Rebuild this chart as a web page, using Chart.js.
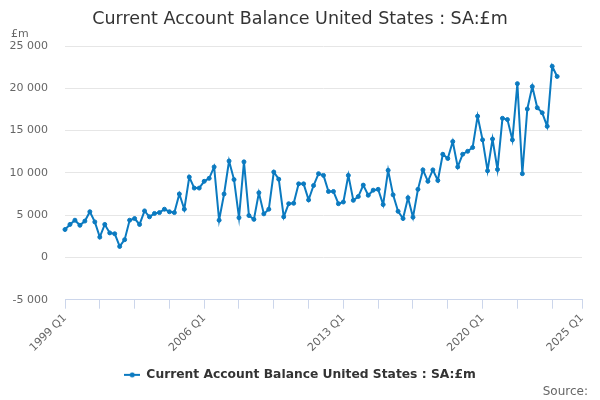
<!DOCTYPE html>
<html lang="en">
<head>
<meta charset="utf-8">
<title>Current Account Balance United States : SA:£m</title>
<script src="https://cdn.jsdelivr.net/npm/chart.js@4.4.1/dist/chart.umd.min.js"></script>
<style>
  body { margin: 0; background: #fff; }
  #box { width: 600px; height: 400px; }
</style>
</head>
<body>
<div id="box"><canvas id="chart"></canvas></div>
<script>
const chartTitle = "Current Account Balance United States : SA:£m";
const seriesName = "Current Account Balance United States : SA:£m";
const unitLabel = "£m";
const sourceLabel = "Source:";

// quarters on the axis: 1999 Q1 .. 2025 Q1
const firstYear = 1999;
const lastYear = 2025;
const quarters = [];
for (let year = firstYear; year <= lastYear; year++) {
  for (let q = 1; q <= 4; q++) {
    if (year === lastYear && q > 1) break;
    quarters.push(year + " Q" + q);
  }
}

// £m, 1999 Q1 .. 2023 Q4
const balance = [
  3300, 3900, 4400, 3800, 4300, 5400, 4200, 2400, 3900, 2900,
  2800, 1300, 2100, 4400, 4600, 3900, 5500, 4800, 5200, 5300,
  5700, 5400, 5300, 7500, 5700, 9500, 8200, 8200, 9000, 9350,
  10700, 4400, 7500, 11400, 9200, 4700, 11300, 4950, 4500, 7650,
  5150, 5700, 10100, 9250, 4800, 6350, 6400, 8700, 8700, 6800,
  8500, 9900, 9700, 7800, 7800, 6350, 6550, 9700, 6750, 7200,
  8550, 7350, 7950, 8050, 6250, 10300, 7400, 5450, 4600, 7050,
  4750, 8050, 10350, 9000, 10350, 9100, 12200, 11700, 13700, 10700,
  12200, 12550, 13000, 16700, 13900, 10250, 14000, 10400, 16450, 16300,
  13900, 20550, 9900, 17550, 20200, 17700, 17100, 15500, 22600, 21400,
];

const xLabels = ["1999 Q1", "2006 Q1", "2013 Q1", "2020 Q1", "2025 Q1"];
const yMin = -5000;
const yMax = 25000;
const yStep = 5000;

const lineColor = "#0b7ac0";

Chart.defaults.font.family = "'DejaVu Sans', sans-serif";
Chart.defaults.color = "#666";

function formatThousands(v) {
  return v.toString().replace(/\B(?=(\d{3})+(?!\d))/g, " ");
}

// legend symbol: short line with a dot in the middle
function makeLegendSymbol() {
  const c = document.createElement("canvas");
  c.width = 16;
  c.height = 6;
  const g = c.getContext("2d");
  g.strokeStyle = lineColor;
  g.lineWidth = 2;
  g.beginPath();
  g.moveTo(0, 3);
  g.lineTo(16, 3);
  g.stroke();
  g.fillStyle = lineColor;
  g.beginPath();
  g.arc(8, 3, 2.5, 0, Math.PI * 2);
  g.fill();
  return c;
}
const legendSymbol = makeLegendSymbol();

const extraText = {
  id: "extraText",
  afterDraw(chart) {
    const ctx = chart.ctx;
    ctx.save();
    ctx.fillStyle = "#666";
    ctx.textBaseline = "alphabetic";
    ctx.font = "11px 'DejaVu Sans'";
    ctx.textAlign = "left";
    ctx.fillText(unitLabel, 11, 37);
    ctx.font = "12px 'DejaVu Sans'";
    ctx.textAlign = "right";
    ctx.fillText(sourceLabel, 588, 395);
    ctx.restore();
  },
};

new Chart(document.getElementById("chart"), {
  type: "line",
  data: {
    labels: quarters,
    datasets: [
      {
        label: seriesName,
        data: balance,
        borderColor: lineColor,
        backgroundColor: lineColor,
        borderWidth: 2,
        pointRadius: 2,
        pointBorderWidth: 1,
        pointHoverRadius: 3,
        tension: 0,
        fill: false,
      },
    ],
  },
  options: {
    responsive: true,
    maintainAspectRatio: false,
    animation: false,
    layout: { padding: { left: 0, right: 0, top: 0, bottom: 9 } },
    scales: {
      x: {
        type: "category",
        offset: false,
        grid: {
          drawOnChartArea: false,
          drawTicks: true,
          tickLength: 9,
          color: (ctx) =>
            ctx.index % 7 === 0 || ctx.index === quarters.length - 1
              ? "#ccd6eb"
              : "rgba(0,0,0,0)",
        },
        border: { color: "#ccd6eb" },
        ticks: {
          autoSkip: false,
          minRotation: 45,
          maxRotation: 45,
          padding: 3,
          color: "#666",
          font: { size: 11 },
          callback: function (value) {
            const label = this.getLabelForValue(value);
            return xLabels.includes(label) ? label : "";
          },
        },
        afterFit: (scale) => {
          scale.height = 59;
          scale.paddingRight = 18;
        },
      },
      y: {
        min: yMin,
        max: yMax,
        grid: { color: "#e6e6e6", drawTicks: false },
        border: { display: false },
        ticks: {
          stepSize: yStep,
          padding: 17,
          color: "#666",
          font: { size: 11 },
          callback: (v) => formatThousands(v),
        },
        afterFit: (scale) => {
          scale.width = 65;
        },
      },
    },
    plugins: {
      title: {
        display: true,
        text: chartTitle,
        color: "#333",
        font: { size: 17.5, weight: "normal" },
        padding: { top: 9, bottom: 16 },
      },
      legend: {
        position: "bottom",
        labels: {
          usePointStyle: true,
          pointStyleWidth: 16,
          color: "#333",
          font: { size: 12.3, weight: "bold" },
          padding: 10,
          generateLabels: (chart) => {
            const items = Chart.defaults.plugins.legend.labels.generateLabels(chart);
            items.forEach((it) => (it.pointStyle = legendSymbol));
            return items;
          },
        },
      },
      tooltip: { enabled: false },
    },
  },
  plugins: [extraText],
});
</script>
</body>
</html>
